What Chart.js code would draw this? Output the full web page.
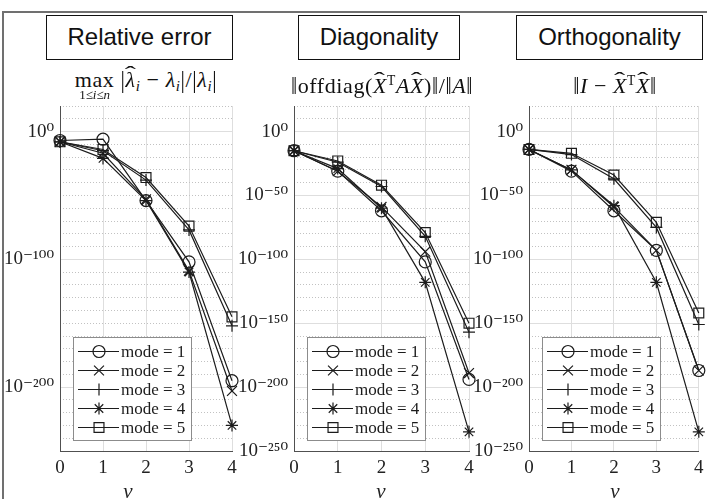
<!DOCTYPE html>
<html><head><meta charset="utf-8">
<script src="https://cdn.jsdelivr.net/npm/chart.js@4.4.1/dist/chart.umd.min.js"></script>
<style>
html,body{margin:0;padding:0;background:#fff;}
#wrap{position:relative;width:707px;height:499px;overflow:hidden;background:#fff;}
canvas{position:absolute;}
.frameTop{position:absolute;left:2px;top:11px;width:705px;height:2px;background:#707070;}
.frameLeft{position:absolute;left:2px;top:11px;width:2px;height:488px;background:#707070;}
.tbox{position:absolute;top:15px;height:45px;border:1.5px solid #111;box-sizing:border-box;font-family:"Liberation Sans",Arial,sans-serif;font-size:24px;line-height:42px;text-align:center;color:#111;background:#fff;}
.math{position:absolute;transform:translateX(-50%);white-space:nowrap;font-family:"Liberation Serif","DejaVu Serif",serif;font-size:22px;letter-spacing:0.6px;color:#111;line-height:24px;}
.math i{font-style:italic;}
.math sub{font-size:0.68em;vertical-align:-0.3em;line-height:0;}
.math sup{font-size:0.62em;vertical-align:0.6em;line-height:0;}
.lim{display:inline-block;position:relative;}
.lim .under{position:absolute;left:50%;transform:translateX(-50%);top:20px;font-size:13px;line-height:13px;letter-spacing:0;white-space:nowrap;}
.hat{display:inline-block;position:relative;}
.hat::before{content:'\02C6';position:absolute;left:0;right:0;top:-0.42em;text-align:center;transform:scaleX(1.7);font-style:normal;font-size:0.9em;}
.bar{display:inline-block;transform:scaleY(1.15);}
.xlab{position:absolute;top:479px;transform:translateX(-50%);font-family:"Liberation Serif","DejaVu Serif",serif;font-style:italic;font-size:21px;color:#222;}
</style></head>
<body>
<div id="wrap">
  <canvas id="c1" width="250" height="404" style="left:0px;top:95px"></canvas>
  <canvas id="c2" width="250" height="404" style="left:230px;top:95px"></canvas>
  <canvas id="c3" width="242" height="404" style="left:465px;top:95px"></canvas>
  <div class="frameTop"></div><div class="frameLeft"></div>
  <div class="tbox" style="left:46px;width:187px">Relative error</div>
  <div class="tbox" style="left:298px;width:162px">Diagonality</div>
  <div class="tbox" style="left:516px;width:187px">Orthogonality</div>
  <div class="math" style="left:146px;top:68px"><span class="lim">max<span class="under">1≤<i>i</i>≤<i>n</i></span></span> <span class="bar">|</span><span class="hat"><i>λ</i></span><sub><i>i</i></sub> − <i>λ</i><sub><i>i</i></sub><span class="bar">|</span>/<span class="bar">|</span><i>λ</i><sub><i>i</i></sub><span class="bar">|</span></div>
  <div class="math" style="left:382px;top:74px"><span class="bar">‖</span>offdiag(<span class="hat"><i>X</i></span><sup>T</sup><i>A</i><span class="hat"><i>X</i></span>)<span class="bar">‖</span>/<span class="bar">‖</span><i>A</i><span class="bar">‖</span></div>
  <div class="math" style="left:615px;top:74px"><span class="bar">‖</span><i>I</i> − <span class="hat"><i>X</i></span><sup>T</sup><span class="hat"><i>X</i></span><span class="bar">‖</span></div>
  <div class="xlab" style="left:128px">ν</div>
  <div class="xlab" style="left:381px">ν</div>
  <div class="xlab" style="left:615px">ν</div>
</div>
<script>
// ---- data (values are log10 of the plotted quantity) ----
const nu = [0, 1, 2, 3, 4];
const modeLabels = ['mode = 1', 'mode = 2', 'mode = 3', 'mode = 4', 'mode = 5'];

const relErrMode1 = [-7, -6, -54, -102, -195];
const relErrMode2 = [-8, -17, -53, -109, -203];
const relErrMode3 = [-8, -15, -38, -77, -152];
const relErrMode4 = [-8, -21, -54, -110, -230];
const relErrMode5 = [-8, -14, -36, -74, -145];

const diagMode1 = [-15, -31, -62, -102, -194];
const diagMode2 = [-15, -31, -59, -94, -189];
const diagMode3 = [-15, -24, -43, -82, -157];
const diagMode4 = [-15, -29, -60, -118, -235];
const diagMode5 = [-15, -23, -42, -79, -150];

const orthMode1 = [-14, -31, -62, -93, -187];
const orthMode2 = [-14, -30, -59, -93, -187];
const orthMode3 = [-14, -18, -37, -75, -151];
const orthMode4 = [-14, -30, -58, -118, -235];
const orthMode5 = [-14, -17, -34, -71, -142];

const yMajorRel = [0, -100, -200];
const yLabelsRel = ['10⁰', '10⁻¹⁰⁰', '10⁻²⁰⁰'];
const yMajorOther = [0, -50, -100, -150, -200, -250];
const yLabelsOther = ['10⁰', '10⁻⁵⁰', '10⁻¹⁰⁰', '10⁻¹⁵⁰', '10⁻²⁰⁰', '10⁻²⁵⁰'];
const xTickLabels = ['0', '1', '2', '3', '4'];

// ---- styles ----
const markerStyle = ['circle', 'crossRot', 'cross', 'star', 'rect'];
const markerRadius = [6, 7, 6, 6, 7];
const ink = '#1c1c1c';
const serif = '"Liberation Serif", "DejaVu Serif", serif';

function drawMarker(ctx, style, r, x, y) {
  if (Chart.helpers && Chart.helpers.drawPoint) {
    Chart.helpers.drawPoint(ctx, {pointStyle: style, radius: r, rotation: 0, borderWidth: 1.2}, x, y);
    return;
  }
  ctx.beginPath();
  if (style === 'circle') { ctx.arc(x, y, r, 0, Math.PI * 2); }
  else if (style === 'rect') { const s = r * Math.SQRT1_2; ctx.rect(x - s, y - s, 2 * s, 2 * s); }
  else {
    const d = r * Math.SQRT1_2;
    if (style === 'cross' || style === 'star') { ctx.moveTo(x, y - r); ctx.lineTo(x, y + r); ctx.moveTo(x - r, y); ctx.lineTo(x + r, y); }
    if (style === 'crossRot' || style === 'star') { ctx.moveTo(x - d, y - d); ctx.lineTo(x + d, y + d); ctx.moveTo(x + d, y - d); ctx.lineTo(x - d, y + d); }
  }
  ctx.stroke();
}

const boxLegend = {
  id: 'boxLegend',
  afterDatasetsDraw(chart) {
    const ctx = chart.ctx, a = chart.chartArea;
    const w = 118, h = 103;
    const x0 = a.left + 13, y0 = a.bottom - 11 - h;
    ctx.save();
    ctx.fillStyle = '#fff';
    ctx.fillRect(x0, y0, w, h);
    ctx.strokeStyle = '#8c8c8c';
    ctx.lineWidth = 1;
    ctx.strokeRect(x0 + 0.5, y0 + 0.5, w, h);
    chart.data.datasets.forEach((ds, i) => {
      const cy = y0 + 14.5 + i * 19;
      ctx.strokeStyle = ink; ctx.lineWidth = 1.2;
      ctx.beginPath(); ctx.moveTo(x0 + 5, cy); ctx.lineTo(x0 + 46, cy); ctx.stroke();
      ctx.fillStyle = 'rgba(255,255,255,0)';
      drawMarker(ctx, ds.pointStyle, ds.pointRadius, x0 + 26, cy);
      ctx.fillStyle = ink;
      ctx.font = '17px ' + serif;
      ctx.textBaseline = 'middle';
      ctx.textAlign = 'left';
      ctx.fillText(ds.label, x0 + 48, cy + 1);
    });
    ctx.restore();
  }
};

function makePanel(id, series, majors, majorLabels, yWidth, padRight) {
  const datasets = series.map((vals, k) => ({
    label: modeLabels[k],
    data: nu.map((x, i) => ({x: x, y: vals[i]})),
    borderColor: ink,
    borderWidth: 1.2,
    pointStyle: markerStyle[k],
    pointRadius: markerRadius[k],
    pointHoverRadius: markerRadius[k],
    pointBorderColor: ink,
    pointBackgroundColor: 'rgba(255,255,255,0)',
    pointBorderWidth: 1.2,
    tension: 0,
    fill: false,
    clip: false
  }));
  const majorStep = majors[0] - majors[1];
  return new Chart(document.getElementById(id), {
    type: 'line',
    data: {datasets},
    plugins: [boxLegend],
    options: {
      responsive: false, animation: false, devicePixelRatio: 1,
      layout: {padding: {left: 0, right: padRight, top: 11, bottom: 0}},
      plugins: {legend: {display: false}, tooltip: {enabled: false}},
      scales: {
        x: {
          type: 'linear', min: 0, max: 4,
          ticks: {stepSize: 1, color: '#222', font: {family: serif, size: 19}, padding: 6,
                  callback: (v) => xTickLabels[v]},
          grid: {color: '#dedede', drawTicks: false, lineWidth: 1},
          border: {color: '#505050', width: 1},
          afterFit: (s) => { s.height = 48; s.paddingLeft = 0; s.paddingRight = 0; }
        },
        yMinor: {
          type: 'linear', position: 'right', min: -250, max: 20,
          ticks: {stepSize: 10, display: false},
          grid: {color: (c) => (c.tick && c.tick.value % majorStep === 0) ? 'rgba(0,0,0,0)' : '#c2c2c2',
                 drawTicks: false, lineWidth: 1},
          border: {display: false, dash: [1, 2]},
          afterFit: (s) => { s.width = 0; s.paddingTop = 0; s.paddingBottom = 0; }
        },
        y: {
          type: 'linear', position: 'left', min: -250, max: 20,
          afterBuildTicks: (s) => { s.ticks = majors.map(v => ({value: v})); },
          ticks: {color: '#222', font: {family: serif, size: 19}, padding: 6, autoSkip: false,
                  callback: (v) => majorLabels[majors.indexOf(v)]},
          grid: {color: '#dedede', drawTicks: false, lineWidth: 1},
          border: {color: '#505050', width: 1},
          afterFit: (s) => { s.width = yWidth; s.paddingTop = 0; s.paddingBottom = 0; }
        }
      }
    }
  });
}

makePanel('c1', [relErrMode1, relErrMode2, relErrMode3, relErrMode4, relErrMode5], yMajorRel, yLabelsRel, 60, 18);
makePanel('c2', [diagMode1, diagMode2, diagMode3, diagMode4, diagMode5], yMajorOther, yLabelsOther, 64, 11);
makePanel('c3', [orthMode1, orthMode2, orthMode3, orthMode4, orthMode5], yMajorOther, yLabelsOther, 64, 6);
</script>
</body></html>
